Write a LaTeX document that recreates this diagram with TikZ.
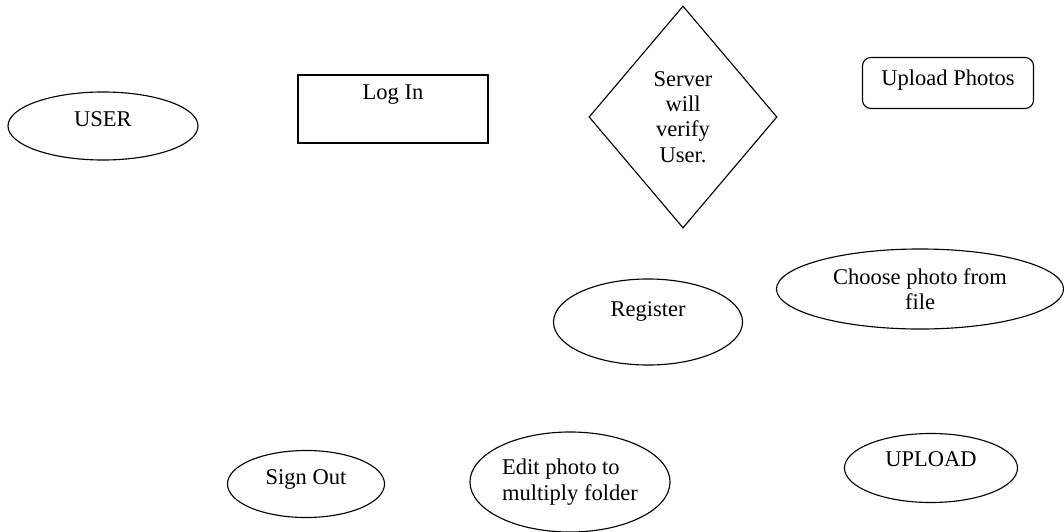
\documentclass[tikz,border=0pt]{standalone}
\usepackage{fontspec}
\setmainfont{Liberation Serif}
\usetikzlibrary{shapes.geometric}

\tikzset{
  oval/.style={ellipse, draw, thick, inner sep=0pt},
  lift/.style={text height=0.3cm, text depth=#1},
  box/.style={rectangle, draw, thick, inner sep=0pt},
  check/.style={diamond, draw, thick, inner sep=0pt, align=center}
}

\begin{document}
\begin{tikzpicture}[x=0.025cm, y=-0.025cm, font=\fontsize{16}{18}\selectfont]

\useasboundingbox (0,0) rectangle (1064,532);

% top row
\node[oval, lift=0.26cm, minimum width=4.75cm, minimum height=1.7cm] (user) at (103,126) {USER};
\node[box, lift=0.76cm, minimum width=4.75cm, minimum height=1.7cm] (login) at (393,109) {Log In};
\node[check, minimum width=4.7cm, minimum height=5.55cm] (verify) at (683,117) {Server\\will\\verify\\User.};
\node[box, lift=0.2cm, rounded corners=6pt, minimum width=4.275cm, minimum height=1.275cm] (photos) at (948,83) {Upload Photos};

% middle row
\node[oval, lift=0.56cm, minimum width=4.725cm, minimum height=2.15cm] (register) at (648,322) {Register};
\node[oval, align=center, minimum width=7.175cm, minimum height=2.0cm] (choose) at (920,289) {Choose photo from\\file};

% bottom row
\node[oval, lift=0.3cm, minimum width=3.925cm, minimum height=1.675cm] (signout) at (306,484) {Sign Out};
\node[oval, align=left, minimum width=5cm, minimum height=2.5cm] (edit) at (570,482) {Edit photo to\\multiply folder};
\node[oval, lift=0.4cm, minimum width=4.325cm, minimum height=1.725cm] (upload) at (931,468) {UPLOAD};

\end{tikzpicture}
\end{document}
